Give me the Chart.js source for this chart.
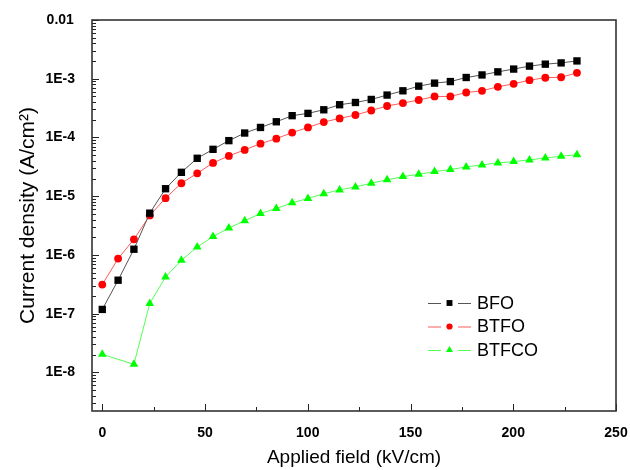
<!DOCTYPE html>
<html lang="en">
<head>
  <meta charset="UTF-8">
  <title>Current density vs applied field</title>
  <script src="https://cdn.jsdelivr.net/npm/chart.js"></script>
  <style>
    body { margin: 0; background: #fff; }
  </style>
</head>
<body>
  <canvas id="jeChart" width="630" height="470"></canvas>

  <script>
    // applied field (kV/cm)
    const fieldBFO = [0, 7.7, 15.4, 23.1, 30.8, 38.5, 46.2, 53.9, 61.6, 69.3, 77, 84.7, 92.4, 100.1, 107.8,
      115.5, 123.2, 130.9, 138.6, 146.3, 154, 161.7, 169.4, 177.1, 184.8, 192.5, 200.2, 207.9, 215.6, 223.3, 231];
    const fieldBTFO = [0, 7.7, 15.4, 23.1, 30.8, 38.5, 46.2, 53.9, 61.6, 69.3, 77, 84.7, 92.4, 100.1, 107.8,
      115.5, 123.2, 130.9, 138.6, 146.3, 154, 161.7, 169.4, 177.1, 184.8, 192.5, 200.2, 207.9, 215.6, 223.3, 231];
    const fieldBTFCO = [0, 15.4, 23.1, 30.8, 38.5, 46.2, 53.9, 61.6, 69.3, 77, 84.7, 92.4, 100.1, 107.8,
      115.5, 123.2, 130.9, 138.6, 146.3, 154, 161.7, 169.4, 177.1, 184.8, 192.5, 200.2, 207.9, 215.6, 223.3, 231];

    // current density (A/cm2)
    const currentBFO = [1.18e-7, 3.71e-7, 1.25e-6, 5.14e-6, 1.34e-5, 2.55e-5, 4.42e-5, 6.28e-5, 8.83e-5, 1.19e-4,
      1.48e-4, 1.85e-4, 2.35e-4, 2.57e-4, 2.96e-4, 3.61e-4, 3.94e-4, 4.44e-4, 5.27e-4, 6.23e-4, 7.48e-4,
      8.41e-4, 8.95e-4, 1.05e-3, 1.16e-3, 1.31e-3, 1.46e-3, 1.64e-3, 1.77e-3, 1.86e-3, 2.01e-3];
    const currentBTFO = [3.13e-7, 8.65e-7, 1.84e-6, 4.70e-6, 9.25e-6, 1.66e-5, 2.45e-5, 3.69e-5, 4.85e-5, 6.14e-5,
      7.85e-5, 9.55e-5, 1.21e-4, 1.48e-4, 1.83e-4, 2.11e-4, 2.41e-4, 2.88e-4, 3.43e-4, 3.85e-4, 4.34e-4,
      4.99e-4, 4.99e-4, 5.83e-4, 6.23e-4, 7.28e-4, 8.18e-4, 9.46e-4, 1.04e-3, 1.06e-3, 1.26e-3];
    const currentBTFCO = [2.03e-8, 1.37e-8, 1.49e-7, 4.21e-7, 8.10e-7, 1.36e-6, 2.05e-6, 2.86e-6, 3.82e-6, 5.08e-6,
      6.18e-6, 7.72e-6, 9.14e-6, 1.10e-5, 1.28e-5, 1.44e-5, 1.66e-5, 1.90e-5, 2.16e-5, 2.36e-5,
      2.62e-5, 2.84e-5, 3.15e-5, 3.41e-5, 3.69e-5, 3.88e-5, 4.15e-5, 4.49e-5, 4.78e-5, 5.10e-5];

    const seriesNames = ['BFO', 'BTFO', 'BTFCO'];

    // axis ticks
    const xTicks = [0, 50, 100, 150, 200, 250];
    const xMinorTicks = [25, 75, 125, 175, 225];
    const yTicks = [1e-8, 1e-7, 1e-6, 1e-5, 1e-4, 1e-3, 1e-2];
    const yTickLabels = ['1E-8', '1E-7', '1E-6', '1E-5', '1E-4', '1E-3', '0.01'];

    const FONT = "'Liberation Sans', Arial, sans-serif";

    function toPoints(xs, ys) {
      return xs.map((x, i) => ({ x: x, y: ys[i] }));
    }

    // inward ticks + box frame, like the original plot
    const frameTicks = {
      id: 'frameTicks',
      afterDraw(chart) {
        const { ctx, chartArea: a, scales: { x, y } } = chart;
        ctx.save();
        ctx.strokeStyle = '#222';
        ctx.lineWidth = 1;
        ctx.beginPath();
        xTicks.forEach(v => {
          const px = Math.round(x.getPixelForValue(v)) + 0.5;
          ctx.moveTo(px, a.bottom); ctx.lineTo(px, a.bottom - 7);
        });
        xMinorTicks.forEach(v => {
          const px = Math.round(x.getPixelForValue(v)) + 0.5;
          ctx.moveTo(px, a.bottom); ctx.lineTo(px, a.bottom - 4);
        });
        yTicks.forEach(v => {
          const py = Math.round(y.getPixelForValue(v)) + 0.5;
          ctx.moveTo(a.left, py); ctx.lineTo(a.left + 7, py);
        });
        for (let e = -9; e < -2; e++) {
          for (let m = 2; m <= 9; m++) {
            const v = m * Math.pow(10, e);
            if (v <= y.min || v >= y.max) continue;
            const py = Math.round(y.getPixelForValue(v)) + 0.5;
            ctx.moveTo(a.left, py); ctx.lineTo(a.left + 4, py);
          }
        }
        ctx.stroke();
        ctx.lineWidth = 1.6;
        ctx.strokeStyle = '#333';
        ctx.strokeRect(a.left, a.top, a.right - a.left, a.bottom - a.top);
        ctx.restore();
      }
    };

    // legend inside the plot: line - marker - line, then name
    const insideLegend = {
      id: 'insideLegend',
      afterDraw(chart) {
        const ctx = chart.ctx;
        const a = chart.chartArea;
        const x0 = a.left + 336;
        const y0 = a.top + 283;
        ctx.save();
        chart.data.datasets.forEach((ds, i) => {
          const yy = y0 + i * 23.5;
          ctx.strokeStyle = ds.borderColor;
          ctx.lineWidth = 1;
          ctx.beginPath();
          ctx.moveTo(x0, yy + 0.5); ctx.lineTo(x0 + 13, yy + 0.5);
          ctx.moveTo(x0 + 30, yy + 0.5); ctx.lineTo(x0 + 43, yy + 0.5);
          ctx.stroke();
          ctx.fillStyle = ds.pointBackgroundColor;
          Chart.helpers.drawPoint(ctx, {
            pointStyle: ds.pointStyle, radius: ds.pointRadius * 0.8, rotation: 0, borderWidth: 0
          }, x0 + 21.5, yy);
          ctx.fillStyle = '#000';
          ctx.font = '18px ' + FONT;
          ctx.textBaseline = 'middle';
          ctx.textAlign = 'left';
          ctx.fillText(seriesNames[i], x0 + 49, yy + 1);
        });
        ctx.restore();
      }
    };

    function createChart() {
      const ctx = document.getElementById('jeChart').getContext('2d');
      new Chart(ctx, {
        type: 'line',
        data: {
          datasets: [
            {
              label: seriesNames[0],
              data: toPoints(fieldBFO, currentBFO),
              borderColor: '#555555',
              borderWidth: 1,
              pointStyle: 'rect',
              pointRadius: 5.2,
              pointBackgroundColor: '#000000',
              pointBorderWidth: 0,
            },
            {
              label: seriesNames[1],
              data: toPoints(fieldBTFO, currentBTFO),
              borderColor: '#ff5a5a',
              borderWidth: 1,
              pointStyle: 'circle',
              pointRadius: 3.9,
              pointBackgroundColor: '#ff0000',
              pointBorderWidth: 0,
            },
            {
              label: seriesNames[2],
              data: toPoints(fieldBTFCO, currentBTFCO),
              borderColor: '#55ff55',
              borderWidth: 1,
              pointStyle: 'triangle',
              pointRadius: 5,
              pointBackgroundColor: '#00ff00',
              pointBorderWidth: 0,
            },
          ],
        },
        options: {
          responsive: false,
          animation: false,
          layout: { padding: { top: 20, right: 14, left: 0, bottom: 0 } },
          plugins: {
            legend: { display: false },
            tooltip: { enabled: false },
          },
          scales: {
            x: {
              type: 'linear',
              min: -5,
              max: 250,
              grid: { display: false, drawTicks: false },
              border: { display: false },
              afterBuildTicks: (scale) => { scale.ticks = xTicks.map(v => ({ value: v })); },
              afterFit: (scale) => {
                scale.height = 59;
                scale.paddingLeft = 0;
                scale.paddingRight = 0;
              },
              ticks: {
                padding: 14,
                color: '#000',
                font: { family: FONT, size: 14, weight: 'bold' },
              },
              title: {
                display: true,
                text: 'Applied field (kV/cm)',
                color: '#000',
                font: { family: FONT, size: 19 },
                padding: { bottom: 1 },
              },
            },
            y: {
              type: 'logarithmic',
              min: 2.2e-9,
              max: 0.01,
              grid: { display: false, drawTicks: false },
              border: { display: false },
              afterBuildTicks: (scale) => { scale.ticks = yTicks.map(v => ({ value: v })); },
              afterFit: (scale) => {
                scale.width = 92;
                scale.paddingTop = 0;
                scale.paddingBottom = 0;
              },
              ticks: {
                padding: 17,
                crossAlign: 'center',
                color: '#000',
                font: { family: FONT, size: 14, weight: 'bold' },
                callback: (value) => {
                  const k = yTicks.findIndex(t => Math.abs(Math.log10(t) - Math.log10(value)) < 1e-6);
                  return k >= 0 ? yTickLabels[k] : '';
                },
              },
              title: {
                display: true,
                text: 'Current density (A/cm²)',
                color: '#000',
                font: { family: FONT, size: 21 },
                padding: { top: 16 },
              },
            },
          },
        },
        plugins: [frameTicks, insideLegend],
      });
    }

    createChart();
  </script>
</body>
</html>
